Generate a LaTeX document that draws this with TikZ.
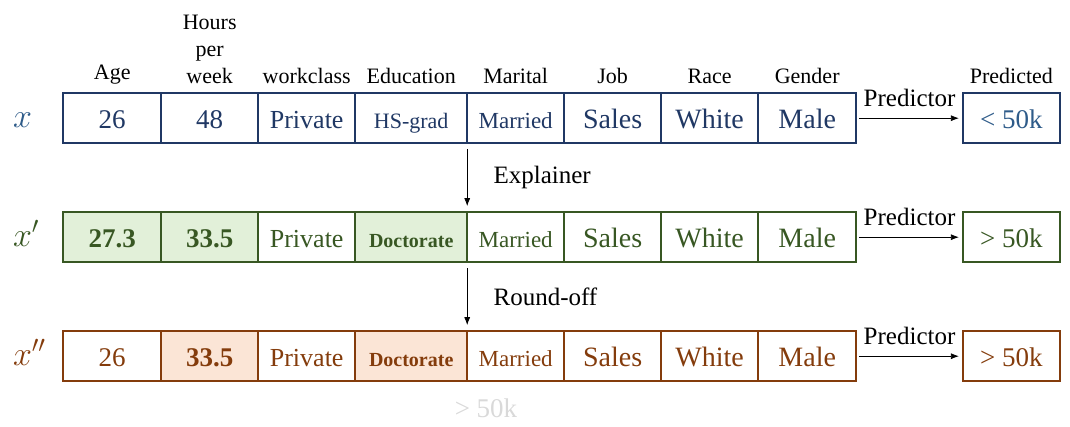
\RequirePackage{fix-cm}
\documentclass[tikz,border=0pt]{standalone}
\usepackage{fontspec}
\setmainfont{Liberation Serif}
\usepackage{amsmath}
\usepackage{tikz}
\usetikzlibrary{matrix,positioning,arrows.meta}

\definecolor{navy}{HTML}{203864}
\definecolor{steel}{HTML}{2E5B89}
\definecolor{leaf}{HTML}{385723}
\definecolor{leaffill}{HTML}{E2F0D9}
\definecolor{rust}{HTML}{843C0C}
\definecolor{rustfill}{HTML}{FBE5D6}

\newcommand{\fs}[1]{\fontsize{#1}{#1}\selectfont}

\begin{document}
\begin{tikzpicture}[x=1pt,y=-1pt,
	head/.style={font=\fontsize{22}{27}\selectfont,align=center,inner sep=2pt},
	note/.style={font=\fs{25},inner sep=2pt},
	varlbl/.style={font=\fs{34},inner sep=0pt,text width=45pt,align=left,
		text height=18pt,text depth=0pt},
	flow/.style={-{Latex[length=8pt,width=6pt]},line width=0.8pt}]
	\useasboundingbox (0,0) rectangle (1070,427);
	\matrix (M) [matrix of nodes,
	anchor=north west, inner sep=0pt,
	column sep=-1.7pt,
	row sep=67.3pt,
	nodes={draw,line width=1.7pt,minimum width=97pt,minimum height=50pt,
		outer sep=0pt,inner sep=0pt,text height=22pt,text depth=2pt,
		anchor=center,font=\fs{27}},
	column 1/.style={nodes={minimum width=98pt}},
	column 3/.style={nodes={font=\fs{26}}},
	column 4/.style={nodes={minimum width=112pt,font=\fs{22}}},
	column 5/.style={nodes={font=\fs{23}}},
	column 6/.style={nodes={font=\fs{28}}},
	column 7/.style={nodes={font=\fs{28}}},
	column 8/.style={nodes={minimum width=98pt,font=\fs{28}}},
	row 1/.style={nodes={draw=navy,text=navy}},
	row 2/.style={nodes={draw=leaf,text=leaf}},
	row 3/.style={nodes={draw=rust,text=rust}}] at (62.15,92.15) {
		26 & 48 & Private & HS-grad & Married & Sales & White & Male &[106.7pt] |[text=steel]| < 50k \\
		|[fill=leaffill]| \textbf{27.3} & |[fill=leaffill]| \textbf{33.5} & Private & |[fill=leaffill,font=\fs{20}]| \textbf{Doctorate} & Married & Sales & White & Male & > 50k \\
		26 & |[fill=rustfill]| \textbf{33.5} & Private & |[fill=rustfill,font=\fs{20}]| \textbf{Doctorate} & Married & Sales & White & Male & > 50k \\
	};
	% column headers
	\foreach \j/\t in {1/Age,2/{Hours\\per\\week},3/workclass,4/Education,5/Marital,6/Job,7/Race,8/Gender,9/Predicted}{
		\path (M-1-\j) [late options={label={[head,label distance=7pt]above:\t}}];
	}
	% row names
	\node (v1) [varlbl,text=steel,left=5pt of M-1-1] {$x$};
	\node (v2) [varlbl,text=leaf,left=5pt of M-2-1] {$x'$};
	\node (v3) [varlbl,text=rust,left=5pt of M-3-1] {$x''$};
	\draw[flow,shorten <=6pt,shorten >=6pt] (M-1-5.south west) -- node[note,midway,right=24pt] {Explainer} (M-2-5.north west);
	\draw[flow,shorten <=6pt,shorten >=6pt] (M-2-5.south west) -- node[note,midway,right=24pt] {Round-off} (M-3-5.north west);
	\foreach \i in {1,2,3}{
		\draw[flow,shorten <=3pt,shorten >=4pt] (M-\i-8.east) -- node[note,above=9pt] {Predictor} (M-\i-9.west);
	}
	\node (ghost) [font=\fs{27},text=black!15] at (486,408) {> 50k};
\end{tikzpicture}
\end{document}
